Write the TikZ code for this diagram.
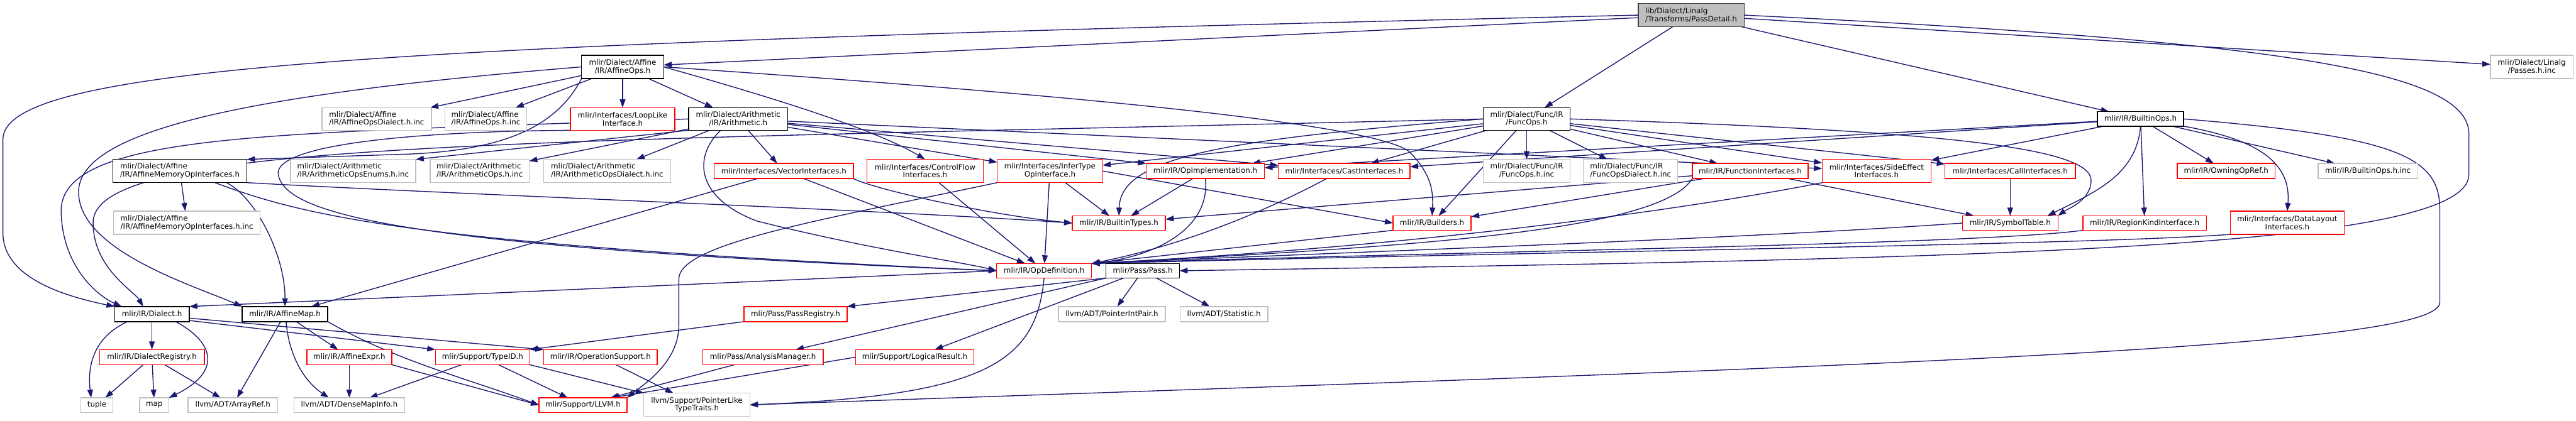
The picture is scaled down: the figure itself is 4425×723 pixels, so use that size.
\documentclass[tikz,border=0pt]{standalone}
\usepackage{fontspec}
\setmainfont{DejaVu Sans}
\usetikzlibrary{arrows.meta,calc}
\definecolor{edgec}{RGB}{25,25,112}
\definecolor{gbord}{RGB}{191,191,191}
\definecolor{gfill}{RGB}{191,191,191}
\definecolor{dbord}{RGB}{64,64,64}
\definecolor{rbord}{RGB}{255,0,0}
\newcommand{\fnt}{\fontsize{7.3}{7.9}\selectfont}
\pgfdeclarelayer{bg}
\pgfsetlayers{bg,main}
\tikzset{
  nb/.style={draw=black, line width=0.85pt, fill=white, inner sep=0pt, outer sep=0pt, font=\fnt, align=center},
  nk/.style={nb},
  nr/.style={nb, draw=rbord},
  ng/.style={nb, draw=gbord},
  bx/.style n args={4}{at={({(#1+#3)/2},{(#2+#4)/2})}, minimum width={(#3-#1)*0.02cm}, minimum height={(#4-#2)*0.02cm}},
  e/.style={draw=edgec, line width=0.85pt, -{Triangle[length=8pt,width=5.5pt]}},
}
\begin{document}
\begin{tikzpicture}[x=0.02cm,y=-0.02cm]
\useasboundingbox (0,0) rectangle (4425,723);
% nodes
\node[nb, fill=gfill, draw=dbord, align=left, bx={2814}{6}{2996}{46}] (root) {lib/Dialect/Linalg\\/Transforms/PassDetail.h};
\node[nk,bx={999}{95}{1140}{135}] (affops) {mlir/Dialect/Affine\\/IR/AffineOps.h};
\node[nk,bx={2548}{185}{2697}{224}] (funcops) {mlir/Dialect/Func/IR\\/FuncOps.h};
\node[nk,bx={3603}{192}{3751}{217}] (builtinops) {mlir/IR/BuiltinOps.h};
\node[ng,bx={4278}{95}{4420}{135}] (passesinc) {mlir/Dialect/Linalg\\/Passes.h.inc};
\node[ng,align=left,bx={553}{185}{741}{224}] (affdialinc) {mlir/Dialect/Affine\\/IR/AffineOpsDialect.h.inc};
\node[ng,align=left,bx={764}{185}{905}{224}] (affopsinc) {mlir/Dialect/Affine\\/IR/AffineOps.h.inc};
\node[nr,bx={980}{185}{1159}{224}] (looplike) {mlir/Interfaces/LoopLike\\Interface.h};
\node[nk,bx={1183}{185}{1353}{224}] (arith) {mlir/Dialect/Arithmetic\\/IR/Arithmetic.h};
\node[nk,align=left,bx={194}{274}{424}{314}] (affmem) {mlir/Dialect/Affine\\/IR/AffineMemoryOpInterfaces.h};
\node[ng,align=left,bx={499}{274}{714}{314}] (arenums) {mlir/Dialect/Arithmetic\\/IR/ArithmeticOpsEnums.h.inc};
\node[ng,align=left,bx={739}{274}{909}{314}] (aropsinc) {mlir/Dialect/Arithmetic\\/IR/ArithmeticOps.h.inc};
\node[ng,align=left,bx={934}{274}{1152}{314}] (ardialinc) {mlir/Dialect/Arithmetic\\/IR/ArithmeticOpsDialect.h.inc};
\node[nr,bx={1227}{281}{1466}{307}] (vector) {mlir/Interfaces/VectorInterfaces.h};
\node[nr,bx={1489}{274}{1689}{314}] (cflow) {mlir/Interfaces/ControlFlow\\Interfaces.h};
\node[nr,bx={1713}{274}{1894}{314}] (infer) {mlir/Interfaces/InferType\\OpInterface.h};
\node[nr,bx={1969}{281}{2172}{307}] (opimpl) {mlir/IR/OpImplementation.h};
\node[nr,bx={2196}{281}{2422}{307}] (cast) {mlir/Interfaces/CastInterfaces.h};
\node[ng,bx={2548}{274}{2697}{314}] (funcinc) {mlir/Dialect/Func/IR\\/FuncOps.h.inc};
\node[ng,align=left,bx={2720}{274}{2882}{314}] (funcdialinc) {mlir/Dialect/Func/IR\\/FuncOpsDialect.h.inc};
\node[nr,bx={2907}{281}{3106}{307}] (funcif) {mlir/IR/FunctionInterfaces.h};
\node[nr,bx={3130}{274}{3317}{314}] (sideeff) {mlir/Interfaces/SideEffect\\Interfaces.h};
\node[nr,bx={3341}{281}{3565}{307}] (callif) {mlir/Interfaces/CallInterfaces.h};
\node[nr,bx={3740}{281}{3908}{307}] (owning) {mlir/IR/OwningOpRef.h};
\node[ng,bx={3982}{281}{4153}{307}] (builtinopsinc) {mlir/IR/BuiltinOps.h.inc};
\node[ng,align=left,bx={195}{363}{447}{403}] (affmeminc) {mlir/Dialect/Affine\\/IR/AffineMemoryOpInterfaces.h.inc};
\node[nr,bx={1842}{371}{2002}{396}] (bitypes) {mlir/IR/BuiltinTypes.h};
\node[nr,bx={2393}{371}{2527}{396}] (builders) {mlir/IR/Builders.h};
\node[nr,bx={3371}{371}{3535}{396}] (symtab) {mlir/IR/SymbolTable.h};
\node[nr,bx={3578}{371}{3790}{396}] (regionkind) {mlir/IR/RegionKindInterface.h};
\node[nr,bx={3831}{363}{4027}{403}] (datalayout) {mlir/Interfaces/DataLayout\\Interfaces.h};
\node[nr,bx={1712}{453}{1875}{478}] (opdef) {mlir/IR/OpDefinition.h};
\node[nk,bx={1900}{453}{2026}{478}] (pass) {mlir/Pass/Pass.h};
\node[nk,bx={197}{527}{325}{553}] (dialect) {mlir/IR/Dialect.h};
\node[nk,bx={416}{527}{563}{553}] (affmap) {mlir/IR/AffineMap.h};
\node[nr,bx={1278}{527}{1455}{553}] (passreg) {mlir/Pass/PassRegistry.h};
\node[ng,bx={1818}{527}{2002}{553}] (ptrint) {llvm/ADT/PointerIntPair.h};
\node[ng,bx={2027}{527}{2178}{553}] (stat) {llvm/ADT/Statistic.h};
\node[nr,bx={171}{601}{351}{627}] (dialreg) {mlir/IR/DialectRegistry.h};
\node[nr,bx={527}{601}{673}{627}] (affexpr) {mlir/IR/AffineExpr.h};
\node[nr,bx={748}{601}{910}{627}] (typeid) {mlir/Support/TypeID.h};
\node[nr,bx={934}{601}{1129}{627}] (opsupp) {mlir/IR/OperationSupport.h};
\node[nr,bx={1207}{601}{1414}{627}] (anal) {mlir/Pass/AnalysisManager.h};
\node[nr,bx={1470}{601}{1673}{627}] (logres) {mlir/Support/LogicalResult.h};
\node[ng,bx={139}{684}{194}{709}] (tuple) {tuple};
\node[ng,bx={240}{684}{290}{709}] (map) {map};
\node[ng,bx={323}{684}{477}{709}] (arrayref) {llvm/ADT/ArrayRef.h};
\node[ng,bx={505}{684}{695}{709}] (densemap) {llvm/ADT/DenseMapInfo.h};
\node[nr,bx={926}{684}{1077}{709}] (llvmh) {mlir/Support/LLVM.h};
\node[ng,bx={1106}{676}{1288}{716}] (ptrlike) {llvm/Support/PointerLike\\TypeTraits.h};

\begin{pgfonlayer}{bg}
% root
\draw[e] (root.west) .. controls (700,75) and (5,110) .. (5,240) -- (5,400) .. controls (5,470) and (90,505) .. (dialect.north west);
\draw[e] (root) -- (affops);
\draw[e] (root) -- (funcops);
\draw[e] (root) -- (builtinops);
\draw[e] (root) -- (passesinc);
\draw[e] (root.east) .. controls (3900,70) and (4241,120) .. (4241,230) -- (4241,300) .. controls (4241,430) and (3400,445) .. (pass.east);
% builtinops
\draw[e] (builtinops.east) .. controls (4120,235) and (4191,270) .. (4191,360) -- (4191,520) .. controls (4191,600) and (3200,630) .. (ptrlike.east);
\draw[e] (builtinops.south east) .. controls (3880,240) and (3936,280) .. (datalayout.north);
\draw[e] (builtinops) -- (owning);
\draw[e] (builtinops) -- (builtinopsinc);
\draw[e] (builtinops) -- (regionkind);
\draw[e] (builtinops.south) .. controls (3670,300) and (3600,330) .. ($(symtab.north east)+(-18,0)$);
\draw[e] (builtinops) -- (sideeff);
\draw[e] (builtinops) -- (opimpl);
\draw[e] (builtinops) -- (cast);
% funcops
\draw[e] (funcops) -- (funcinc);
\draw[e] (funcops) -- (funcdialinc);
\draw[e] (funcops) -- (funcif);
\draw[e] (funcops) -- (sideeff);
\draw[e] (funcops) -- (callif);
\draw[e] (funcops.east) .. controls (3350,225) and (3592,255) .. (3592,310) .. controls (3592,345) and (3550,360) .. (symtab.north east);
\draw[e] (funcops) -- (builders);
\draw[e] (funcops) -- (cast);
\draw[e] (funcops) -- (opimpl);
\draw[e] (funcops) -- (infer);
\draw[e] (funcops.west) .. controls (2100,240) and (1925,270) .. (bitypes.north);
\draw[e] (funcops.west) .. controls (900,245) and (170,240) .. (160,380) .. controls (158,460) and (230,500) .. ($(dialect.north)+(-15,0)$);
% affops
\draw[e] (affops.west) .. controls (450,160) and (135,220) .. (135,330) .. controls (135,430) and (330,490) .. (affmap.north west);
\draw[e] (affops) -- (affdialinc);
\draw[e] (affops) -- (affopsinc);
\draw[e] (affops) -- (looplike);
\draw[e] (affops) -- (arith);
\draw[e] (affops.south west) .. controls (960,210) and (880,258) .. (700,265) -- (affmem.north east);
\draw[e] (affops.east) .. controls (1800,160) and (2350,210) .. (2420,260) .. controls (2460,300) and (2462,330) .. (builders.north);
\draw[e] (affops.east) .. controls (1300,160) and (1500,220) .. (cflow.north);
% looplike
\draw[e] (looplike.south west) .. controls (700,226) and (470,250) .. (478,300) .. controls (490,370) and (700,425) .. (opdef.west);
% arith
\draw[e] (arith.west) .. controls (500,230) and (110,225) .. (105,360) .. controls (105,450) and (160,505) .. ($(dialect.north west)+(12,0)$);
\draw[e] (arith) -- (ardialinc);
\draw[e] (arith) -- (aropsinc);
\draw[e] (arith.south west) -- (arenums.north east);
\draw[e] (arith) -- (vector);
\draw[e] (arith) -- (infer);
\draw[e] (arith) -- (opimpl.north west);
\draw[e] (arith) -- (cast);
\draw[e] (arith) -- (sideeff);
\draw[e] ($(arith.south)+(-30,0)$) .. controls (1190,270) and (1195,340) .. (1300,380) .. controls (1500,430) and (1650,450) .. (opdef.west);
% affmem
\draw[e] (affmem) -- (affmeminc);
\draw[e] ($(affmem.south)+(80,0)$) .. controls (440,340) and (490,440) .. (affmap.north);
\draw[e] ($(affmem.south)+(60,0)$) .. controls (520,370) and (700,420) .. (opdef.west);
\draw[e] (affmem.south east) .. controls (800,335) and (1500,360) .. (bitypes.west);
% vector
\draw[e] (vector) -- (affmap);
\draw[e] (vector) -- (opdef);
\draw[e] (vector.south east) .. controls (1500,325) and (1700,370) .. (bitypes.west);
% cflow
\draw[e] (cflow) -- (opdef);
% infer
\draw[e] (infer) -- (opdef);
\draw[e] (infer) -- (bitypes);
\draw[e] (infer.east) -- (builders.west);
\draw[e] (infer.south west) .. controls (1400,380) and (1166,420) .. (1166,480) -- (1166,560) .. controls (1166,625) and (1100,665) .. (llvmh.north east);
% opimpl
\draw[e] (opimpl) -- (bitypes);
\draw[e] (opimpl.south) .. controls (2080,390) and (1990,440) .. (opdef.north east);
% cast
\draw[e] ($(cast.south)+(-30,0)$) .. controls (2180,360) and (2040,420) .. (opdef.north east);
% builders
\draw[e] (builders.south west) -- (opdef.north east);
% funcif
\draw[e] (funcif) -- (symtab);
\draw[e] (funcif) -- (builders);
\draw[e] (funcif) -- (bitypes);
\draw[e] (funcif.south west) .. controls (2850,400) and (2400,425) .. (opdef.north east);
% sideeff
\draw[e] (sideeff.south west) .. controls (2950,350) and (2500,420) .. (opdef.north east);
% symtab etc
\draw[e] (symtab.west) .. controls (3000,410) and (2400,430) .. (opdef.north east);
\draw[e] (regionkind.south west) .. controls (3400,420) and (2600,430) .. (opdef.north east);
\draw[e] (datalayout.south west) .. controls (3600,420) and (2800,430) .. (opdef.north east);
\draw[e] (callif) -- (symtab);
% opdef
\draw[e] (opdef.south) .. controls (1780,620) and (1700,680) .. (ptrlike.east);
\draw[e] (opdef.west) -- (dialect.north east);
% pass
\draw[e] (pass.south west) -- (passreg.north east);
\draw[e] (pass.south west) -- (anal);
\draw[e] (pass) -- (logres);
\draw[e] (pass) -- (ptrint);
\draw[e] (pass) -- (stat);
% dialect
\draw[e] (dialect) -- (dialreg);
\draw[e] ($(dialect.south west)+(22,0)$) .. controls (160,580) and (150,630) .. ($(tuple.north)+(-10,0)$);
\draw[e] ($(dialect.south east)+(-23,0)$) .. controls (370,590) and (380,640) .. (map.north east);
\draw[e] ($(dialect.south east)+(0,-2)$) -- (typeid.north west);
\draw[e] ($(dialect.south east)+(0,-6)$) -- (opsupp.north west);
% dialreg
\draw[e] (dialreg) -- (tuple);
\draw[e] (dialreg) -- (map);
\draw[e] (dialreg) -- (arrayref);
% affmap
\draw[e] (affmap) -- (arrayref);
\draw[e] ($(affmap.south)+(2,0)$) .. controls (495,600) and (515,650) .. ($(densemap.north)+(-35,0)$);
\draw[e] (affmap) -- (affexpr);
\draw[e] (affmap.south east) .. controls (680,620) and (800,650) .. (llvmh.west);
% affexpr
\draw[e] (affexpr) -- (densemap);
\draw[e] (affexpr.south east) -- (llvmh.west);
% typeid
\draw[e] (typeid) -- (densemap);
\draw[e] (typeid) -- (llvmh);
\draw[e] (typeid.south east) -- (ptrlike.north west);
\draw[e] (opsupp) -- (ptrlike);
\draw[e] (passreg.south west) -- (typeid.north east);
\draw[e] (anal) -- (llvmh);
\draw[e] (logres.west) -- ($(llvmh.north east)+(-27,0)$);
\end{pgfonlayer}
\end{tikzpicture}
\end{document}
